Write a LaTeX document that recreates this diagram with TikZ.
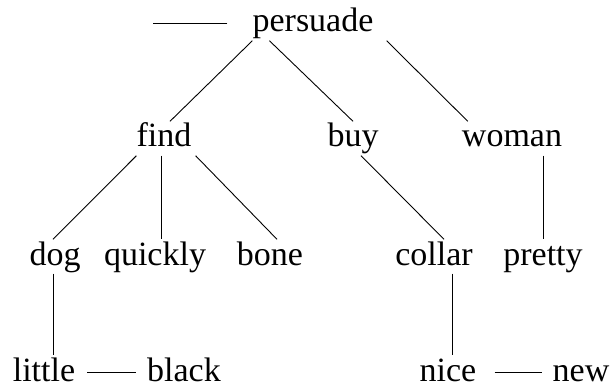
\documentclass[tikz,border=0pt]{standalone}
\usepackage{fontspec}
\setmainfont{Liberation Serif}
\tikzset{
    word/.style={anchor=base, inner sep=0pt, text height=25.5pt, text depth=8.5pt,
        font=\fontsize{34}{40}\selectfont},
    dep/.style={line width=0.9pt}
}
\begin{document}
\begin{tikzpicture}[x=1pt, y=-1pt]
        \useasboundingbox (0,0) rectangle (612,387);

        % Root
        \node[word] (persuade) at (313, 32) {persuade};
        \coordinate (stub) at (153, 23.5);

        % Second level
        \node[word] (find) at (164, 147) {find};
        \node[word] (buy) at (353, 147) {buy};
        \node[word] (woman) at (512, 147) {woman};

        % Third level
        \node[word] (dog) at (55, 265) {dog};
        \node[word] (quickly) at (155, 265) {quickly};
        \node[word] (bone) at (270, 265) {bone};
        \node[word] (collar) at (434, 265) {collar};
        \node[word] (pretty) at (543, 265) {pretty};

        % Bottom level
        \node[word] (little) at (44, 381) {little};
        \node[word] (black) at (184, 381) {black};
        \node[word] (nice) at (448, 381) {nice};
        \node[word] (new) at (581, 381) {new};

        % Links
        \draw[dep] ([xshift=-25pt]persuade.west) -- (stub);
        \draw[dep] (persuade.south west) -- ([xshift=6pt]find.north);
        \draw[dep] ([xshift=17pt]persuade.south west) -- (buy.north);
        \draw[dep] ([xshift=13pt]persuade.south east) -- ([xshift=6pt]woman.north west);
        \draw[dep] (find.south west) -- ([xshift=-2pt]dog.north);
        \draw[dep] ([xshift=-3pt]find.south) -- ([xshift=-3pt]find.south |- quickly.north);
        \draw[dep] ([xshift=4pt]find.south east) -- ([xshift=7pt]bone.north);
        \draw[dep] ([xshift=8pt]buy.south) -- ([xshift=10pt]collar.north);
        \draw[dep] (pretty.north |- woman.south) -- (pretty.north);
        \draw[dep] ([xshift=-2pt]dog.south) -- ([xshift=-2pt]dog.south |- little.north);
        \draw[dep] ([xshift=4pt]nice.north |- collar.south) -- ([xshift=4pt]nice.north);
        \draw[dep] ([xshift=12pt]little.east) -- ([xshift=-11pt]black.west);
        \draw[dep] ([xshift=18pt]nice.east) -- ([xshift=-10pt]new.west);
    \end{tikzpicture}
\end{document}
